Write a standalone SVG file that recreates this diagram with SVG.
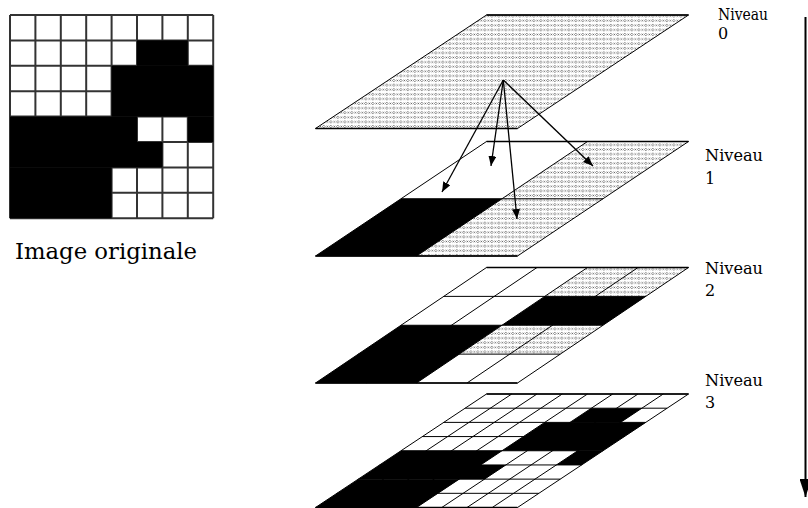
<svg xmlns="http://www.w3.org/2000/svg" width="808" height="508" viewBox="0 0 808 508">
<defs>
<pattern id="dots" width="7" height="4.6" patternUnits="userSpaceOnUse">
<rect width="7" height="4.6" fill="#fff"/>
<path d="M1.8,1 L3.1,2.3 L1.8,3.6 L0.5,2.3 Z" fill="none" stroke="#555" stroke-width="0.7"/>
<path d="M4.6,1.5 L6.2,3.1 M6.2,1.5 L4.6,3.1" stroke="#555" stroke-width="0.7"/>
</pattern>
<marker id="ah" markerUnits="userSpaceOnUse" markerWidth="10" markerHeight="8" refX="10" refY="4" orient="auto">
<path d="M0,0 L10,4 L0,8 Z" fill="#000"/>
</marker>
<marker id="bigah" markerUnits="userSpaceOnUse" markerWidth="18" markerHeight="12" refX="18" refY="6" orient="auto">
<path d="M0,0 L18,6 L0,12 Z" fill="#000"/>
</marker>
</defs>
<style>
.grid{stroke:#333;stroke-width:2;fill:none}
.blk{fill:#000}
.ln{stroke:#000;stroke-width:1;fill:none}
.edge{stroke:#000;stroke-width:1.4;fill:none}
.dot{fill:url(#dots)}
.lbl{font-size:16px;fill:#000}
.cap{font-size:23px;fill:#000}
.arr{stroke:#000;stroke-width:1.3;fill:none;marker-end:url(#ah)}
</style>

<g id="original-image">
<rect x="10" y="15" width="203.2" height="203.2" fill="#fff"/>
<path class="grid" d="M10,15V218.2M35.4,15V218.2M60.8,15V218.2M86.2,15V218.2M111.6,15V218.2M137,15V218.2M162.4,15V218.2M187.8,15V218.2M213.2,15V218.2M10,15H213.2M10,40.4H213.2M10,65.8H213.2M10,91.2H213.2M10,116.6H213.2M10,142H213.2M10,167.4H213.2M10,192.8H213.2M10,218.2H213.2"/>
<rect class="blk" x="137" y="40.4" width="50.8" height="25.4"/>
<rect class="blk" x="111.6" y="65.8" width="101.6" height="50.8"/>
<rect class="blk" x="10" y="116.6" width="127" height="25.4"/>
<rect class="blk" x="187.8" y="116.6" width="25.4" height="25.4"/>
<rect class="blk" x="10" y="142" width="152.4" height="25.4"/>
<rect class="blk" x="10" y="167.4" width="101.6" height="50.8"/>
<text class="cap" font-family="DejaVu Serif, serif" x="15" y="259" textLength="182" lengthAdjust="spacingAndGlyphs">Image originale</text>
</g>

<g id="level0">
<polygon class="dot" points="486.5,15 688.5,15 517.5,128.5 315.5,128.5"/>
<polygon class="ln" points="486.5,15 688.5,15 517.5,128.5 315.5,128.5"/>
<path class="edge" d="M486.5,15H688.5M315.5,128.5H517.5"/>
</g>

<g id="level1">
<polygon fill="#fff" points="486.5,141.5 688.5,141.5 517.5,256 315.5,256"/>
<polygon class="dot" points="587.5,141.5 688.5,141.5 517.5,256 416.5,256"/>
<polygon class="blk" points="401,198.75 502,198.75 416.5,256 315.5,256"/>
<path class="ln" d="M401,198.75H603M587.5,141.5L416.5,256"/>
<polygon class="ln" points="486.5,141.5 688.5,141.5 517.5,256 315.5,256"/>
<path class="edge" d="M486.5,141.5H688.5M315.5,256H517.5"/>
</g>

<g id="level2">
<polygon fill="#fff" points="486.5,267.5 688.5,267.5 517.5,383 315.5,383"/>
<polygon class="dot" points="587.5,267.5 688.5,267.5 645.75,296.375 544.75,296.375"/>
<polygon class="blk" points="544.75,296.375 645.75,296.375 603,325.25 502,325.25"/>
<polygon class="blk" points="401,325.25 502,325.25 416.5,383 315.5,383"/>
<polygon class="dot" points="502,325.25 603,325.25 560.25,354.125 459.25,354.125"/>
<path class="ln" d="M443.75,296.375H645.75M401,325.25H603M358.25,354.125H560.25M537,267.5L366,383M587.5,267.5L416.5,383M638,267.5L467,383"/>
<polygon class="ln" points="486.5,267.5 688.5,267.5 517.5,383 315.5,383"/>
<path class="edge" d="M486.5,267.5H688.5M315.5,383H517.5"/>
</g>

<g id="level3">
<polygon fill="#fff" points="486.5,394 688.5,394 517.5,507.5 315.5,507.5"/>
<polygon class="blk" points="591.375,408.1875 641.875,408.1875 620.5,422.375 570,422.375"/>
<polygon class="blk" points="544.75,422.375 645.75,422.375 603,450.75 502,450.75"/>
<polygon class="blk" points="401,450.75 502,450.75 480.625,464.9375 379.625,464.9375"/>
<polygon class="blk" points="577.75,450.75 603,450.75 581.625,464.9375 556.375,464.9375"/>
<polygon class="blk" points="379.625,464.9375 505.875,464.9375 484.5,479.125 358.25,479.125"/>
<polygon class="blk" points="358.25,479.125 459.25,479.125 416.5,507.5 315.5,507.5"/>
<path class="ln" d="M465.125,408.1875H667.125M443.75,422.375H645.75M422.375,436.5625H624.375M401,450.75H603M379.625,464.9375H581.625M358.25,479.125H560.25M336.875,493.3125H538.875M511.75,394L340.75,507.5M537,394L366,507.5M562.25,394L391.25,507.5M587.5,394L416.5,507.5M612.75,394L441.75,507.5M638,394L467,507.5M663.25,394L492.25,507.5"/>
<polygon class="ln" points="486.5,394 688.5,394 517.5,507.5 315.5,507.5"/>
<path class="edge" d="M486.5,394H688.5M315.5,507.5H517.5"/>
</g>

<g id="labels" font-family="DejaVu Serif, serif">
<text class="lbl" x="718" y="20" textLength="50" lengthAdjust="spacingAndGlyphs">Niveau</text>
<text class="lbl" x="718" y="39">0</text>
<text class="lbl" x="705" y="161" textLength="58" lengthAdjust="spacingAndGlyphs">Niveau</text>
<text class="lbl" x="705" y="184">1</text>
<text class="lbl" x="705" y="274" textLength="58" lengthAdjust="spacingAndGlyphs">Niveau</text>
<text class="lbl" x="705" y="296">2</text>
<text class="lbl" x="705" y="386" textLength="58" lengthAdjust="spacingAndGlyphs">Niveau</text>
<text class="lbl" x="705" y="408">3</text>
</g>

<g id="connectors">
<line class="arr" x1="503.3" y1="80" x2="442" y2="192"/>
<line class="arr" x1="503.3" y1="80" x2="491" y2="166"/>
<line class="arr" x1="503.3" y1="80" x2="517" y2="219"/>
<line class="arr" x1="503.3" y1="80" x2="593" y2="166"/>
<line x1="805.5" y1="17" x2="805.5" y2="497" stroke="#000" stroke-width="2" marker-end="url(#bigah)"/>
</g>
</svg>
